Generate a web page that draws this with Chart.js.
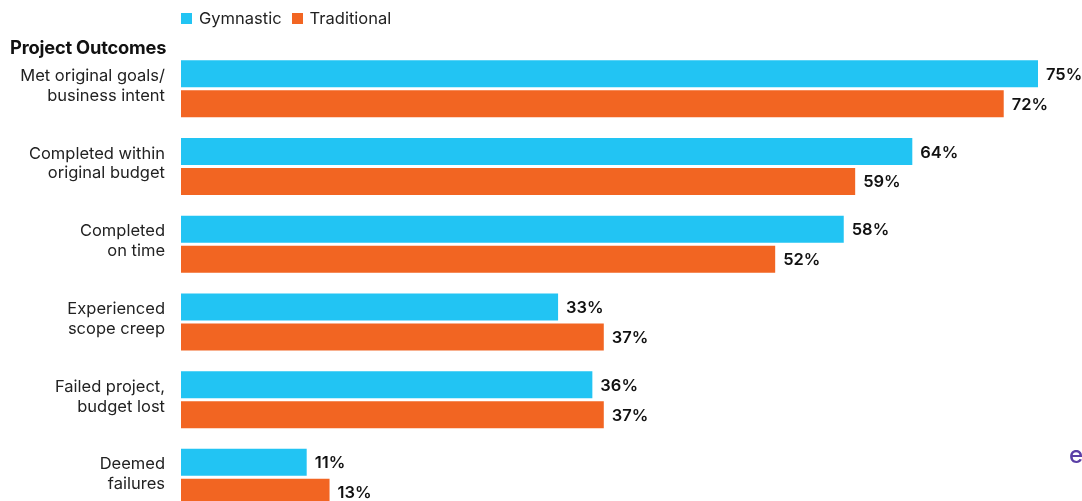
<!DOCTYPE html>
<html>
<head>
<meta charset="utf-8">
<script src="https://cdn.jsdelivr.net/npm/chart.js@4.4.0/dist/chart.umd.min.js"></script>
<style>
  html, body { margin: 0; padding: 0; background: #fff; overflow: hidden; width: 1082px; height: 501px; }
  #chart { position: absolute; left: 0; top: 0; }
  #legend { position: absolute; left: 181px; top: 8px; font: 16.5px Inter, sans-serif; color: #222; display: flex; gap: 10px; }
  #legend span.sw { display: inline-block; width: 11px; height: 11px; margin-right: 7px; vertical-align: 0px; }
  #title { position: absolute; left: 10px; top: 36px; font: 700 18.3px Inter, sans-serif; color: #111; letter-spacing: -0.2px; }
  #logo { position: absolute; left: 1069px; top: 440px; font: 500 24px Inter, sans-serif; color: #5a3fa6; }
</style>
</head>
<body>
<canvas id="chart" width="1082" height="544"></canvas>
<div id="legend"></div>
<div id="title">Project Outcomes</div>
<div id="logo">e</div>
<script>
// categories + values (percent)
const categories = [
    ['Met original goals/', 'business intent'],
    ['Completed within', 'original budget'],
    ['Completed', 'on time'],
    ['Experienced', 'scope creep'],
    ['Failed project,', 'budget lost'],
    ['Deemed', 'failures']
];
const seriesNames = ['Gymnastic', 'Traditional'];
const gymnastic = [75, 64, 58, 33, 36, 11];
const traditional = [72, 59, 52, 37, 37, 13];
const colors = ['#22c4f3', '#f26522'];

// legend
document.getElementById('legend').innerHTML = seriesNames.map((n, i) =>
    `<div><span class="sw" style="background:${colors[i]}"></span>${n}</div>`
).join('');

// value labels at bar ends
const valueLabels = {
    id: 'valueLabels',
    afterDatasetsDraw(chart) {
        const ctx = chart.ctx;
        ctx.save();
        ctx.font = '600 16.5px Inter, sans-serif';
        ctx.fillStyle = '#111';
        ctx.textBaseline = 'middle';
        ctx.textAlign = 'left';
        chart.data.datasets.forEach((ds, di) => {
            chart.getDatasetMeta(di).data.forEach((bar, i) => {
                ctx.fillText(ds.data[i] + '%', bar.x + 8, bar.y + 1);
            });
        });
        ctx.restore();
    }
};

const ctx = document.getElementById('chart').getContext('2d');
new Chart(ctx, {
    type: 'bar',
    data: {
        labels: categories,
        datasets: [
            { label: seriesNames[0], data: gymnastic, backgroundColor: colors[0] },
            { label: seriesNames[1], data: traditional, backgroundColor: colors[1] }
        ]
    },
    options: {
        indexAxis: 'y',
        responsive: false,
        animation: false,
        categoryPercentage: 0.772,
        barPercentage: 0.9,
        layout: { padding: { top: 50, bottom: 0, right: 44, left: 0 } },
        plugins: { legend: { display: false }, tooltip: { enabled: false } },
        scales: {
            x: { display: false, min: 0, max: 75 },
            y: {
                grid: { display: false },
                border: { display: false },
                afterFit(scale) { scale.width = 181; },
                ticks: {
                    padding: 8,
                    labelOffset: -3,
                    color: '#222',
                    font: { family: 'Inter, sans-serif', size: 16.5, lineHeight: 1.2 }
                }
            }
        }
    },
    plugins: [valueLabels]
});
</script>
</body>
</html>
